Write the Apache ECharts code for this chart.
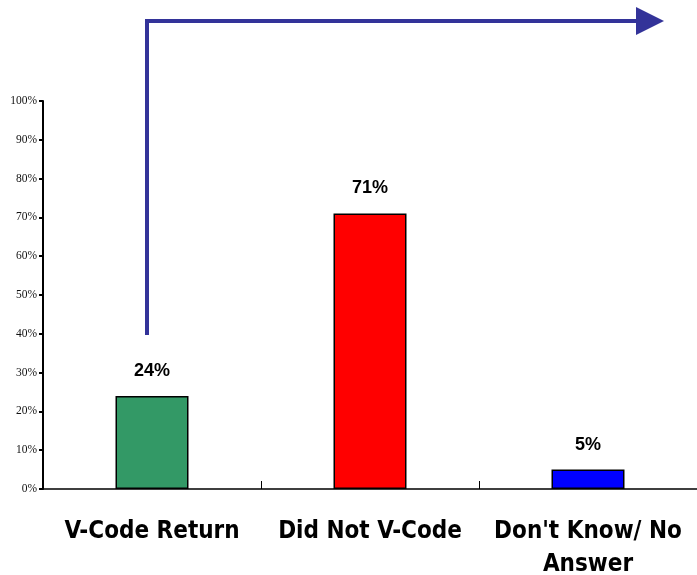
<!DOCTYPE html>
<html><head><meta charset="utf-8">
<script src="https://cdn.jsdelivr.net/npm/echarts@6/dist/echarts.min.js"></script>
<style>html,body{margin:0;padding:0;background:#fff;overflow:hidden}#c{width:697px;height:575px}</style>
</head><body><div id="c"></div>
<script>
const categories = ["V-Code Return", "Did Not V-Code", "Don't Know/ No\nAnswer"];
const values = [24, 71, 5];
const colors = ["#339966", "#ff0000", "#0000ff"];
const yTicks = [0, 10, 20, 30, 40, 50, 60, 70, 80, 90, 100];

const chart = echarts.init(document.getElementById('c'));
chart.setOption({
  animation: false,
  grid: { left: 43, right: 0, top: 101, bottom: 86, outerBoundsMode: 'none', containLabel: false },
  xAxis: {
    type: 'category', data: categories,
    axisLine: { lineStyle: { color: '#000', width: 1.5 } },
    axisTick: { show: true, inside: true, length: 8, lineStyle: { color: '#000' } },
    axisLabel: { margin: 26, fontFamily: 'DejaVu Sans Condensed', fontWeight: 'bold', fontSize: 24, color: '#000', lineHeight: 33, interval: 0 }
  },
  yAxis: {
    type: 'value', min: 0, max: 100, interval: 10,
    axisLine: { show: true, lineStyle: { color: '#000', width: 2 } },
    axisTick: { show: true, length: 4, lineStyle: { color: '#000', width: 2 } },
    splitLine: { show: false },
    axisLabel: { formatter: v => yTicks.includes(v) ? v + '%' : '', fontFamily: 'Liberation Serif', fontSize: 11.5, color: '#111', margin: 6 }
  },
  series: [{
    type: 'bar', barWidth: 73,
    data: values.map((v, i) => ({ value: v, itemStyle: { color: colors[i] } })),
    itemStyle: { borderColor: '#000', borderWidth: 1.5 },
    label: { show: true, position: 'top', distance: 16, formatter: p => p.value + '%', fontFamily: 'Liberation Sans', fontWeight: 'bold', fontSize: 18, color: '#000' }
  }],
  graphic: [
    { type: 'polyline', shape: { points: [[147, 335], [147, 21], [638, 21]] }, style: { stroke: '#333399', lineWidth: 4, fill: null } },
    { type: 'polygon', shape: { points: [[636, 7], [664, 21], [636, 35]] }, style: { fill: '#333399' } }
  ]
});
</script></body></html>
